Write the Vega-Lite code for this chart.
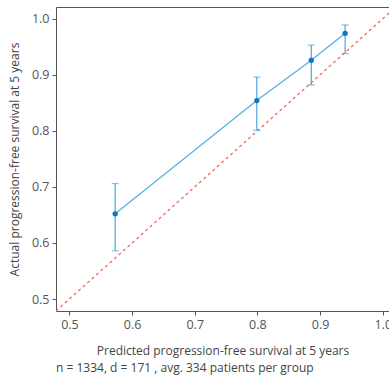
{
  "$schema": "https://vega.github.io/schema/vega-lite/v6.json",
  "width": 333,
  "height": 304,
  "autosize": {"type": "none"},
  "padding": {"left": 56, "top": 7, "right": 0, "bottom": 71},
  "background": "white",
  "config": {
    "view": {"stroke": "#555555", "strokeWidth": 1},
    "font": "Open Sans",
    "axis": {
      "grid": false,
      "domain": false,
      "tickColor": "#555555",
      "tickSize": 4,
      "labelFont": "Open Sans",
      "labelFontSize": 12.5,
      "labelColor": "#555555",
      "titleFont": "Open Sans",
      "titleFontSize": 12,
      "titleFontWeight": "normal",
      "titleColor": "#444444"
    }
  },
  "title": {
    "text": "n = 1334, d = 171 , avg. 334 patients per group",
    "orient": "bottom",
    "anchor": "start",
    "frame": "group",
    "fontSize": 12,
    "fontWeight": "normal",
    "font": "Open Sans",
    "color": "#444444",
    "offset": 6
  },
  "datasets": {
    "cal": [
      {"pred": 0.573, "obs": 0.652, "lo": 0.586, "hi": 0.706},
      {"pred": 0.799, "obs": 0.854, "lo": 0.801, "hi": 0.896},
      {"pred": 0.886, "obs": 0.926, "lo": 0.882, "hi": 0.953},
      {"pred": 0.940, "obs": 0.974, "lo": 0.938, "hi": 0.989}
    ],
    "diag": [
      {"pred": 0.4786, "obs": 0.4786},
      {"pred": 1.03, "obs": 1.03}
    ]
  },
  "layer": [
    {
      "data": {"name": "diag"},
      "mark": {"type": "line", "color": "#ef6660", "strokeWidth": 1.2, "strokeDash": [3, 3], "clip": true},
      "encoding": {
        "x": {
          "field": "pred", "type": "quantitative",
          "scale": {"domain": [0.4786, 1.01], "nice": false, "zero": false},
          "axis": {"values": [0.5, 0.6, 0.7, 0.8, 0.9, 1.0], "format": ".1f", "title": "Predicted progression-free survival at 5 years", "labelPadding": 3, "titlePadding": 15}
        },
        "y": {
          "field": "obs", "type": "quantitative",
          "scale": {"domain": [0.4786, 1.021], "nice": false, "zero": false},
          "axis": {"values": [0.5, 0.6, 0.7, 0.8, 0.9, 1.0], "format": ".1f", "title": "Actual progression-free survival at 5 years", "labelPadding": 3, "titlePadding": 10}
        }
      }
    },
    {
      "data": {"name": "cal"},
      "mark": {"type": "rule", "color": "#4aa8dc", "strokeWidth": 1.2},
      "encoding": {
        "x": {"field": "pred", "type": "quantitative"},
        "y": {"field": "lo", "type": "quantitative"},
        "y2": {"field": "hi"}
      }
    },
    {
      "data": {"name": "cal"},
      "mark": {"type": "tick", "orient": "horizontal", "color": "#4aa8dc", "size": 7, "thickness": 1.2},
      "encoding": {
        "x": {"field": "pred", "type": "quantitative"},
        "y": {"field": "lo", "type": "quantitative"}
      }
    },
    {
      "data": {"name": "cal"},
      "mark": {"type": "tick", "orient": "horizontal", "color": "#4aa8dc", "size": 7, "thickness": 1.2},
      "encoding": {
        "x": {"field": "pred", "type": "quantitative"},
        "y": {"field": "hi", "type": "quantitative"}
      }
    },
    {
      "data": {"name": "cal"},
      "mark": {"type": "line", "color": "#4fb0e2", "strokeWidth": 1.2},
      "encoding": {
        "x": {"field": "pred", "type": "quantitative"},
        "y": {"field": "obs", "type": "quantitative"}
      }
    },
    {
      "data": {"name": "cal"},
      "mark": {"type": "circle", "color": "#0b78c2", "size": 28, "opacity": 1},
      "encoding": {
        "x": {"field": "pred", "type": "quantitative"},
        "y": {"field": "obs", "type": "quantitative"}
      }
    }
  ]
}
